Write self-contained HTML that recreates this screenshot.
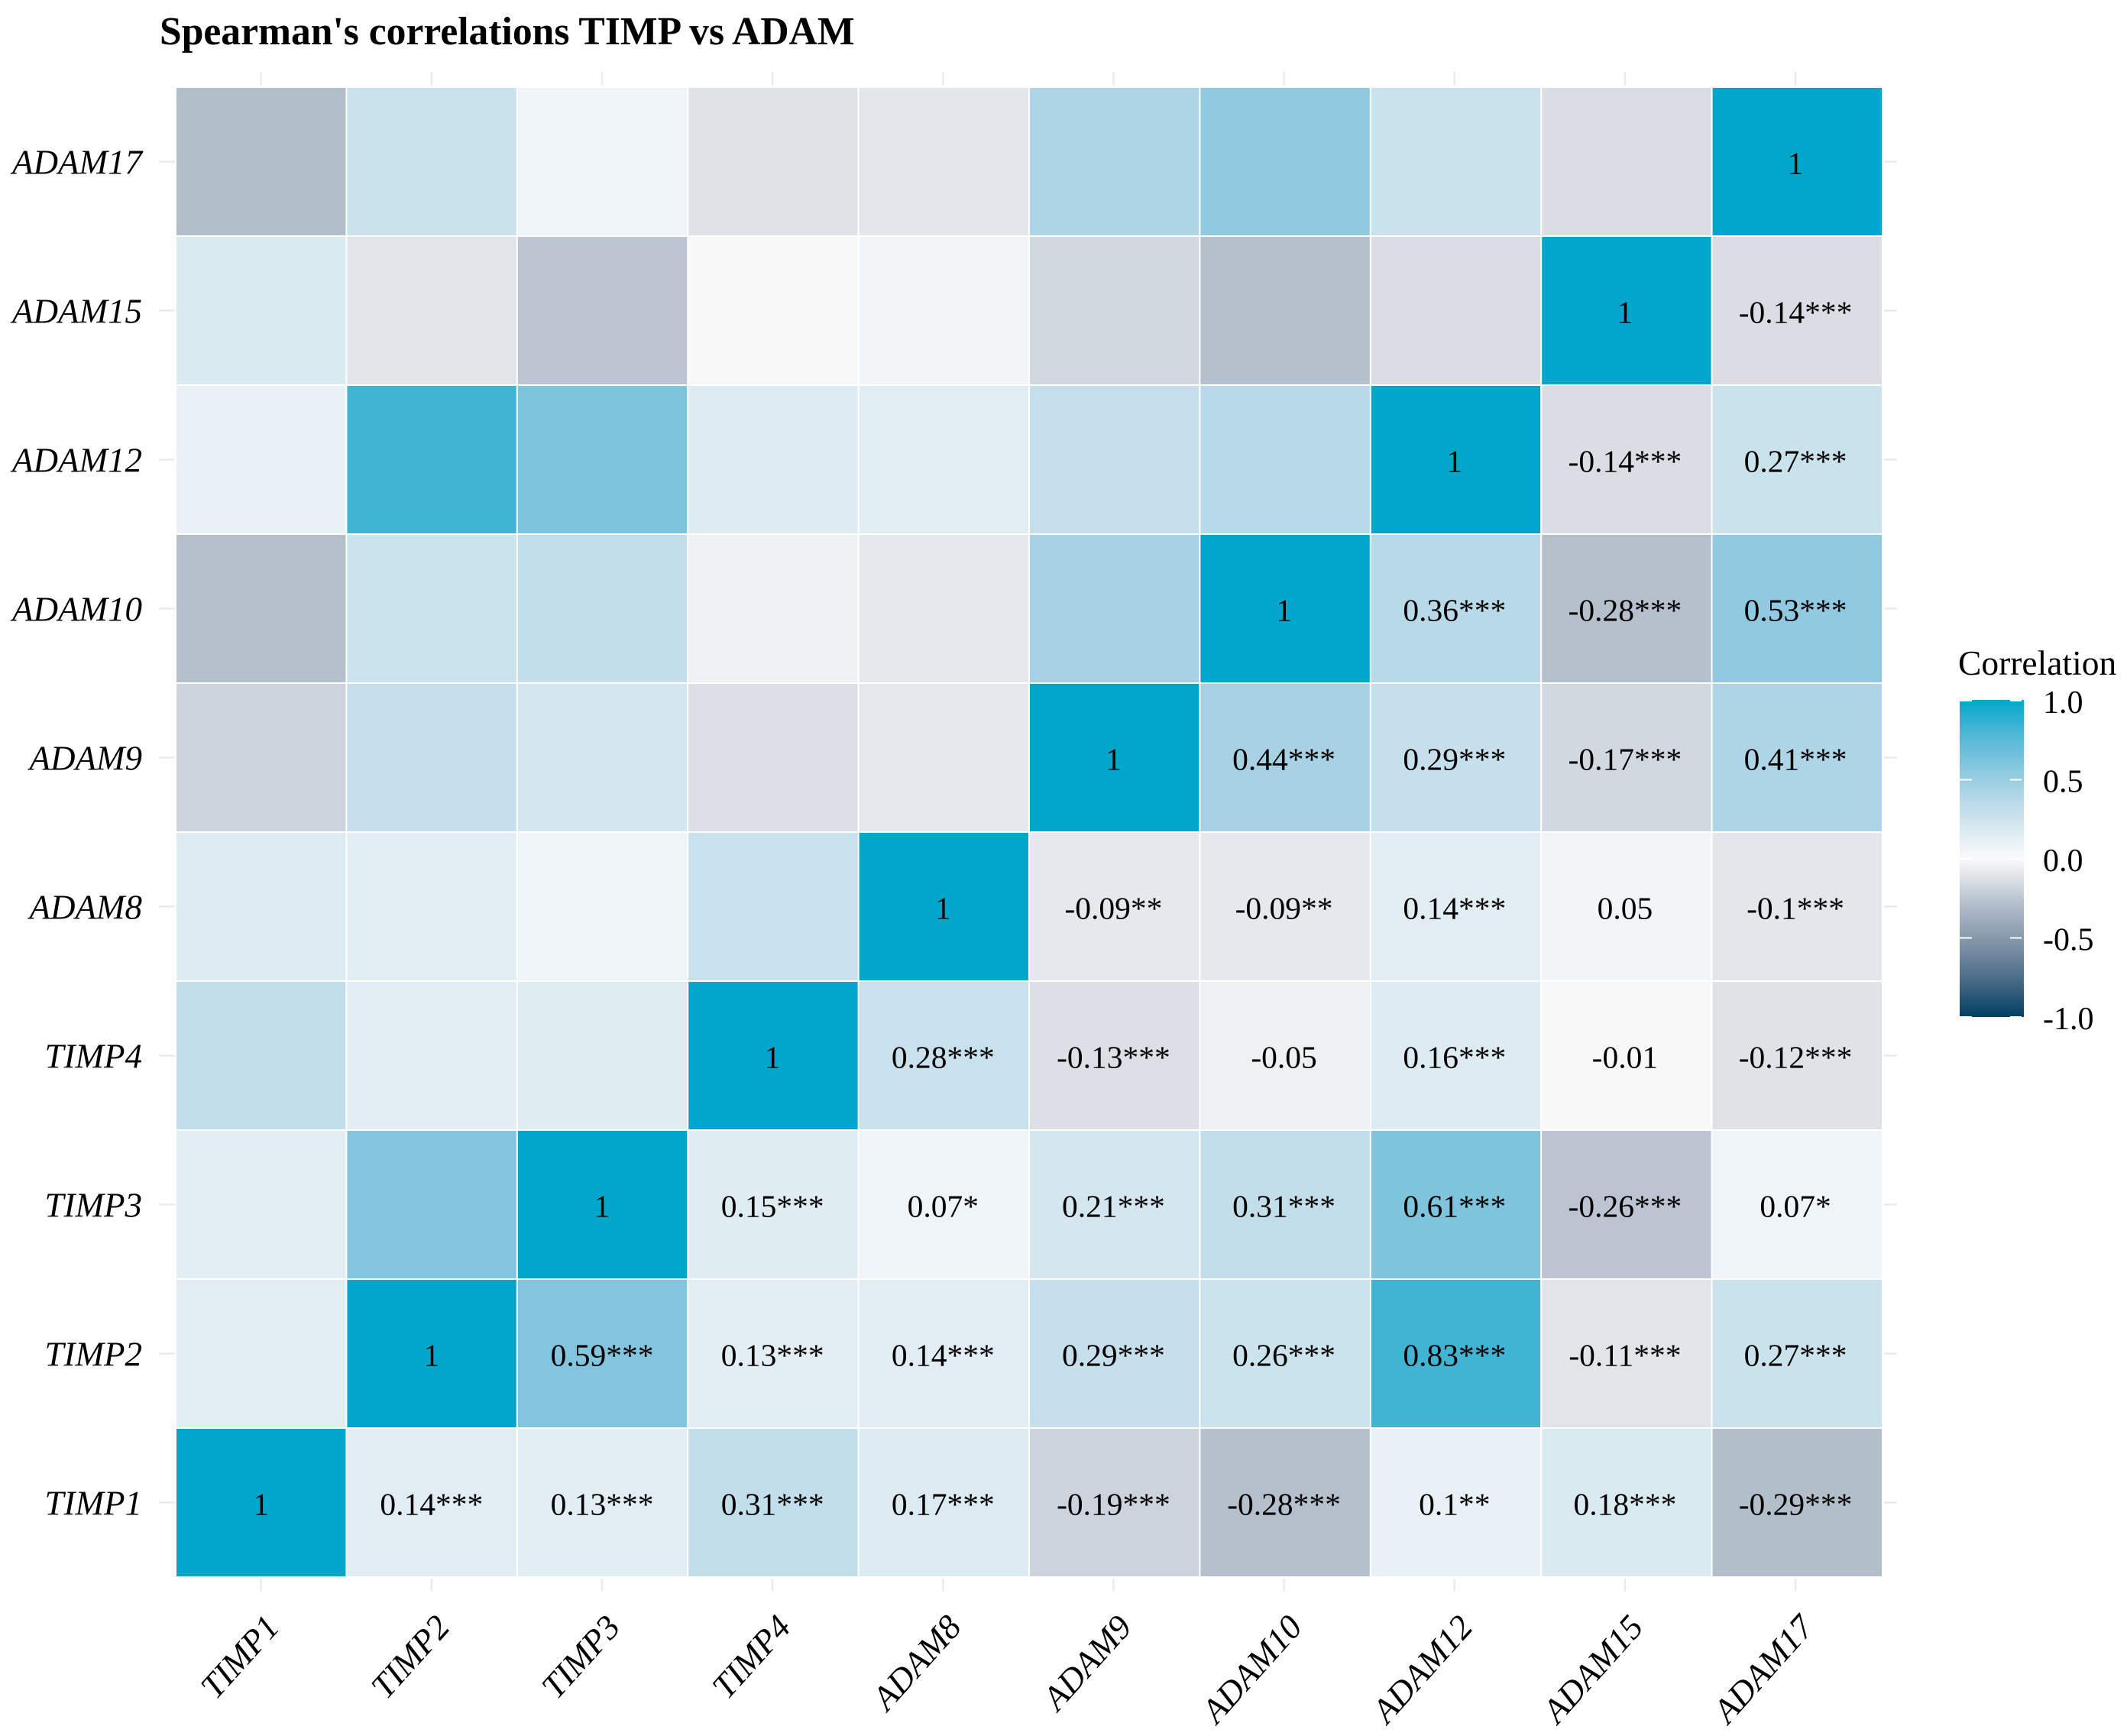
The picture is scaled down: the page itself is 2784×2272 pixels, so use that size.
<!DOCTYPE html>
<html>
<head>
<meta charset="utf-8">
<title>Spearman's correlations TIMP vs ADAM</title>
<style>
html,body{margin:0;padding:0;background:#fff;width:2784px;height:2272px;overflow:hidden}
svg{display:block}
text{font-family:"Liberation Serif",serif;fill:#000}
</style>
</head>
<body>
<svg id="chart" xmlns="http://www.w3.org/2000/svg" width="2784" height="2272" viewBox="0 0 2784 2272">
  <defs>
    <linearGradient id="legend-gradient" x1="0" y1="0" x2="0" y2="1"></linearGradient>
  </defs>
  <text x="209" y="58" font-size="51.6" font-weight="bold">Spearman's correlations TIMP vs ADAM</text>
  <g id="ticks"></g>
  <g id="tiles"></g>
  <g id="cell-labels"></g>
  <g id="x-labels"></g>
  <g id="y-labels"></g>
  <g id="legend">
    <text x="2563" y="883" font-size="45.5">Correlation</text>
    <rect x="2565" y="916" width="84" height="415" fill="url(#legend-gradient)"></rect>
  </g>
</svg>
<script>
const categories = ["TIMP1","TIMP2","TIMP3","TIMP4","ADAM8","ADAM9","ADAM10","ADAM12","ADAM15","ADAM17"];
const correlationRows = [
  [1, 0.14, 0.13, 0.31, 0.17, -0.19, -0.28, 0.1, 0.18, -0.29],
  [1, 0.59, 0.13, 0.14, 0.29, 0.26, 0.83, -0.11, 0.27],
  [1, 0.15, 0.07, 0.21, 0.31, 0.61, -0.26, 0.07],
  [1, 0.28, -0.13, -0.05, 0.16, -0.01, -0.12],
  [1, -0.09, -0.09, 0.14, 0.05, -0.1],
  [1, 0.44, 0.29, -0.17, 0.41],
  [1, 0.36, -0.28, 0.53],
  [1, -0.14, 0.27],
  [1, -0.14],
  [1]
];
const significanceRows = [
  ["", "***", "***", "***", "***", "***", "***", "**", "***", "***"],
  ["", "***", "***", "***", "***", "***", "***", "***", "***"],
  ["", "***", "*", "***", "***", "***", "***", "*"],
  ["", "***", "***", "", "***", "", "***"],
  ["", "**", "**", "***", "", "***"],
  ["", "***", "***", "***", "***"],
  ["", "***", "***", "***"],
  ["", "***", "***"],
  ["", "***"],
  [""]
];
const legendTicks = [1, 0.5, 0, -0.5, -1];

const NS = "http://www.w3.org/2000/svg";
const plotLeft = 231, plotTop = 115, plotRight = 2463, plotBottom = 2063, gap = 2;
const stepX = (plotRight - plotLeft + gap) / categories.length;
const stepY = (plotBottom - plotTop + gap) / categories.length;
function xBand(i) { return plotLeft + i * stepX; }
function yBand(i) { return plotBottom + gap - (i + 1) * stepY; }
function xCenter(i) { return xBand(i) + (stepX - gap) / 2 - i * 0.25; }
function yCenter(i) { return yBand(i) + (stepY - gap) / 2; }

const legendTop = 917, legendBottom = 1331;
function legendY(v) { return legendTop + (1 - v) / 2 * (legendBottom - legendTop); }

const ramp = [
  [-1, [0,63,99]], [-0.75, [78,110,138]], [-0.5, [135,153,172]], [-0.29, [179,190,203]],
  [-0.14, [218,222,228]], [0, [250,250,250]], [0.14, [225,237,243]], [0.29, [198,224,235]],
  [0.41, [174,213,229]], [0.59, [131,197,222]], [0.83, [65,180,211]], [1, [0,167,203]]
];
function fillFor(v) {
  const c = Math.max(-1, Math.min(1, v));
  for (let k = 1; k < ramp.length; k++) {
    if (c <= ramp[k][0]) {
      const t = (c - ramp[k-1][0]) / (ramp[k][0] - ramp[k-1][0]);
      const a = ramp[k-1][1], b = ramp[k][1];
      return "rgb(" + a.map((u, n) => Math.round(u + (b[n] - u) * t)).join(",") + ")";
    }
  }
  return "rgb(0,167,203)";
}

function valueAt(col, row) {
  const lo = Math.min(col, row), hi = Math.max(col, row);
  return correlationRows[lo][hi - lo];
}
function starsAt(col, row) { return significanceRows[row][col - row]; }

function make(tag, attrs, parent, content) {
  const el = document.createElementNS(NS, tag);
  for (const k in attrs) el.setAttribute(k, attrs[k]);
  if (content !== undefined) el.textContent = content;
  parent.appendChild(el);
  return el;
}

const tilesG = document.getElementById("tiles");
const cellLabelsG = document.getElementById("cell-labels");
const ticksG = document.getElementById("ticks");
const xLabelsG = document.getElementById("x-labels");
const yLabelsG = document.getElementById("y-labels");
const legendG = document.getElementById("legend");
const gradient = document.getElementById("legend-gradient");

for (let row = 0; row < categories.length; row++) {
  for (let col = 0; col < categories.length; col++) {
    const tile = make("rect", {x: xBand(col), y: yBand(row), width: stepX - gap, height: stepY - gap, fill: fillFor(valueAt(col, row))}, tilesG);
    
    
    if (col >= row) {
      const label = make("text", {x: xCenter(col), y: yCenter(row) + 16, "font-size": 41.5, "text-anchor": "middle"}, cellLabelsG, String(valueAt(col, row)) + starsAt(col, row));
      
      
    }
  }
}

categories.forEach(function (name, i) {
  const tickColor = "#ebebeb";
  const xBottom = make("line", {x1: xCenter(i), x2: xCenter(i), y1: 2066, y2: 2083, stroke: tickColor, "stroke-width": 2.5}, ticksG);
  
  
  const xTop = make("line", {x1: xCenter(i), x2: xCenter(i), y1: 94, y2: 112, stroke: tickColor, "stroke-width": 2.5}, ticksG);
  
  
  const yLeft = make("line", {x1: 208, x2: 229, y1: yCenter(i), y2: yCenter(i), stroke: tickColor, "stroke-width": 2.5}, ticksG);
  
  
  const yRight = make("line", {x1: 2466, x2: 2483, y1: yCenter(i), y2: yCenter(i), stroke: tickColor, "stroke-width": 2.5}, ticksG);
  
  

  const yLabel = make("text", {x: 186, y: yCenter(i) + 16, "font-size": 45, "font-style": "italic", "text-anchor": "end"}, yLabelsG, name);
  
  

  const ax = xCenter(i) + 26, ay = 2131;
  const xLabel = make("text", {x: ax, y: ay, "font-size": 45, "font-style": "italic", "text-anchor": "end", transform: "rotate(-48 " + ax + " " + ay + ")"}, xLabelsG, name);
  
  
});

for (let s = 0; s <= 40; s++) {
  const v = 1 - s / 20;
  make("stop", {offset: (s / 40), "stop-color": fillFor(v)}, gradient);
}

legendTicks.forEach(function (v) {
  const y = legendY(v);
  const tl = make("line", {x1: 2565, x2: 2581, y1: y, y2: y, stroke: "#fff", "stroke-width": 2}, legendG);
  
  
  const tr = make("line", {x1: 2631, x2: 2646, y1: y, y2: y, stroke: "#fff", "stroke-width": 2}, legendG);
  
  
  const lab = make("text", {x: 2674, y: y + 16, "font-size": 42}, legendG, v.toFixed(1));
  
  
});
</script>
</body>
</html>
